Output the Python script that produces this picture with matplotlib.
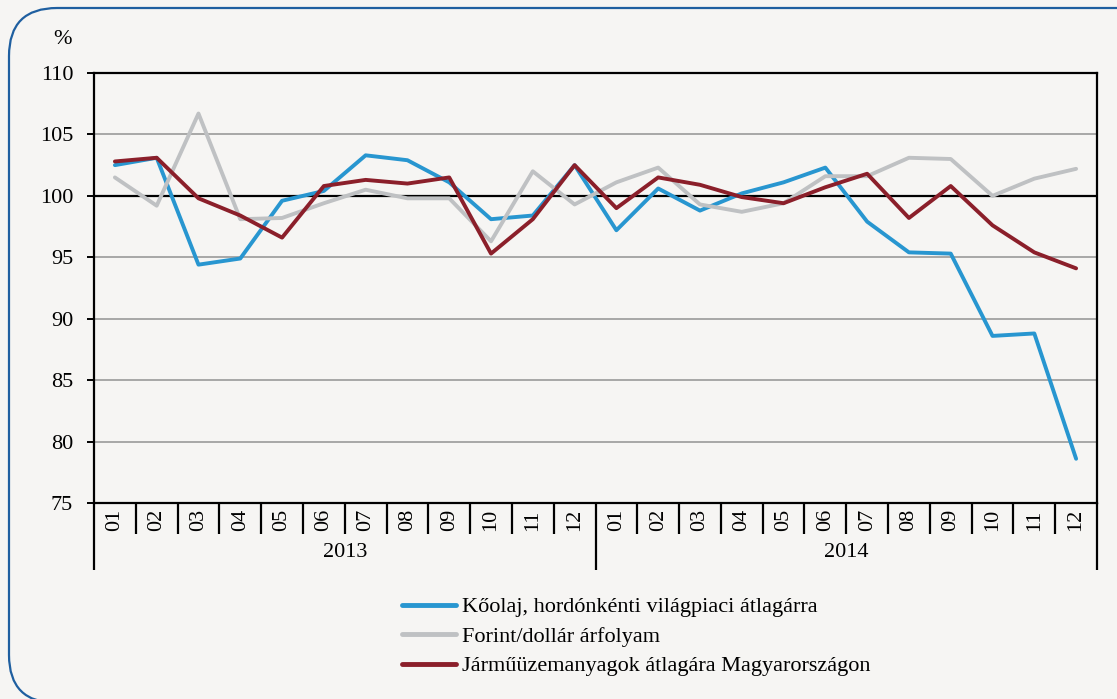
import matplotlib
matplotlib.use("Agg")
import matplotlib.pyplot as plt
from matplotlib.patches import FancyBboxPatch
import numpy as np

months = ["01", "02", "03", "04", "05", "06", "07", "08", "09", "10", "11", "12"]
years = ["2013", "2014"]
y_ticks = [75, 80, 85, 90, 95, 100, 105, 110]

oil = [102.5, 103.1, 94.4, 94.9, 99.6, 100.4, 103.3, 102.9, 101.1, 98.1, 98.4, 102.5,
       97.2, 100.6, 98.8, 100.2, 101.1, 102.3, 97.9, 95.4, 95.3, 88.6, 88.8, 78.6]
fx = [101.5, 99.2, 106.7, 98.1, 98.2, 99.4, 100.5, 99.8, 99.8, 96.3, 102.0, 99.3,
      101.1, 102.3, 99.3, 98.7, 99.4, 101.6, 101.6, 103.1, 103.0, 100.0, 101.4, 102.2]
fuel = [102.8, 103.1, 99.8, 98.4, 96.6, 100.8, 101.3, 101.0, 101.5, 95.3, 98.1, 102.5,
        99.0, 101.5, 100.9, 99.9, 99.4, 100.7, 101.8, 98.2, 100.8, 97.6, 95.4, 94.1]

labels = ["Kőolaj, hordónkénti világpiaci átlagárra",
          "Forint/dollár árfolyam",
          "Járműüzemanyagok átlagára Magyarországon"]
colors = ["#2896d0", "#bfc1c3", "#8b1f2a"]

plt.rcParams['font.family'] = ['Liberation Serif', 'DejaVu Serif']
W, H = 1117, 699
bg = "#f6f5f3"
FS = 16
fig = plt.figure(figsize=(W / 100, H / 100), dpi=100, facecolor=bg)

# rounded border
border = FancyBboxPatch((9 / W, -4 / H), (1200 - 9) / W, (699 - 8 + 4) / H,
                        boxstyle="round,pad=0,rounding_size=0.043",
                        transform=fig.transFigure, facecolor="none",
                        edgecolor="#1f5fa0", linewidth=1.6,
                        mutation_aspect=W / H)
fig.patches.append(border)

ax = fig.add_axes([94 / W, (H - 503) / H, (1097 - 94) / W, (503 - 73) / H])
ax.set_facecolor(bg)
n = len(oil)
x = np.arange(n)
ax.set_xlim(-0.5, n - 0.5)
ax.set_ylim(75, 110)

for yv in y_ticks:
    if yv == 100:
        ax.axhline(yv, color="black", lw=1.6, zorder=1)
    elif yv not in (75, 110):
        ax.axhline(yv, color="#9a9a9a", lw=1.2, zorder=1)

ax.plot(x, oil, color=colors[0], lw=2.8, label=labels[0], zorder=3, solid_capstyle="round")
ax.plot(x, fx, color=colors[1], lw=2.8, label=labels[1], zorder=3, solid_capstyle="round")
ax.plot(x, fuel, color=colors[2], lw=2.8, label=labels[2], zorder=4, solid_capstyle="round")

for s in ax.spines.values():
    s.set_linewidth(1.6)
    s.set_color("black")

ax.set_yticks(y_ticks)
ax.set_yticklabels([str(v) for v in y_ticks], fontsize=FS)
ax.tick_params(axis="y", direction="out", length=5, width=1.4, pad=10)

# x axis: month separators (minor) and year separators (major)
ax.set_xticks([-0.5, 11.5, 23.5])
ax.set_xticklabels([])
ax.set_xticks([i + 0.5 for i in range(n - 1) if i != 11], minor=True)
ax.tick_params(axis="x", which="major", direction="out", length=48, width=1.6)
ax.tick_params(axis="x", which="minor", direction="out", length=22, width=1.6)

trans = ax.get_xaxis_transform()
for i in range(n):
    ax.text(i, -0.04, months[i % 12], transform=trans, rotation=90,
            ha="center", va="center", fontsize=FS)
for k, yr in enumerate(years):
    ax.text(5.5 + 12 * k, -0.115, yr, transform=trans, ha="center", va="center", fontsize=FS)

fig.text(62 / W, 1 - 40 / H, "%", ha="center", va="center", fontsize=FS)

leg = fig.legend(loc="upper left", bbox_to_anchor=(393 / W, 1 - 588 / H), frameon=False,
                 fontsize=FS, handlelength=2.45, handletextpad=0.27, labelspacing=0.4,
                 borderaxespad=0)
for line in leg.get_lines():
    line.set_linewidth(3.5)

fig.savefig("out.png", dpi=100, facecolor=bg)
